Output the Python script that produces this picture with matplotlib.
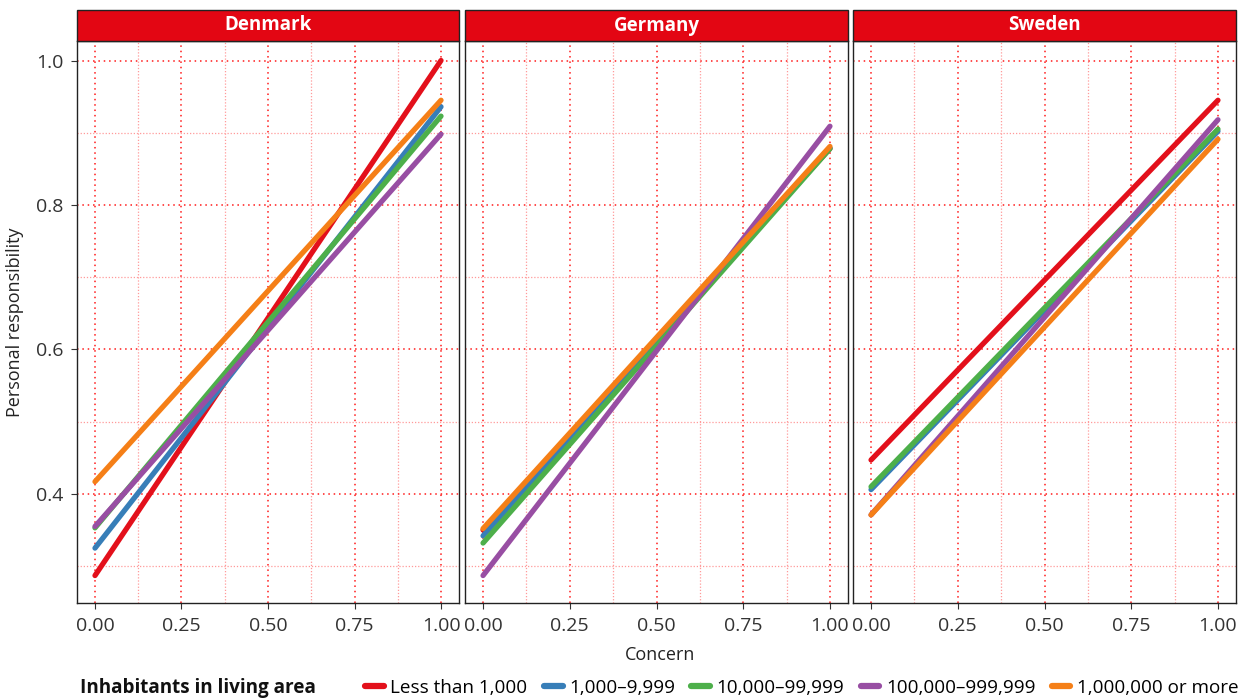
import numpy as np
import matplotlib
matplotlib.use('Agg')
import matplotlib.pyplot as plt
from matplotlib.patches import Rectangle
from matplotlib.lines import Line2D

plt.rcParams['font.family'] = ['Open Sans', 'DejaVu Sans']

# Data
countries = ['Denmark', 'Germany', 'Sweden']
groups = ['Less than 1,000', '1,000\u20139,999', '10,000\u201399,999',
          '100,000\u2013999,999', '1,000,000 or more']
colors = ['#e3101b', '#377eb8', '#4daf4a', '#984ea3', '#f57f17']
concern = [0.0, 1.0]

# predicted personal responsibility at concern = 0 and concern = 1
denmark_start = [0.287, 0.325, 0.353, 0.355, 0.417]
denmark_end = [1.000, 0.936, 0.923, 0.898, 0.945]
germany_start = [0.350, 0.342, 0.332, 0.287, 0.352]
germany_end = [0.878, 0.879, 0.878, 0.909, 0.881]
sweden_start = [0.447, 0.406, 0.410, 0.371, 0.371]
sweden_end = [0.945, 0.902, 0.905, 0.918, 0.891]

starts = [denmark_start, germany_start, sweden_start]
ends = [denmark_end, germany_end, sweden_end]

W, H = 1250, 699
fig = plt.figure(figsize=(W / 100, H / 100), dpi=100)

panel_x = [(77, 459), (465, 848), (853, 1236)]
top_px, bottom_px = 41, 603
strip_px = 31
strip_red = '#e30613'
grid_red = '#ff1a1a'

for i, country in enumerate(countries):
    x0, x1 = panel_x[i]
    ax = fig.add_axes([x0 / W, 1 - bottom_px / H, (x1 - x0) / W, (bottom_px - top_px) / H])
    for g in range(len(groups)):
        ax.plot(concern, [starts[i][g], ends[i][g]], color=colors[g], lw=3.8,
                solid_capstyle='round', zorder=3)
    ax.set_xlim(-0.052, 1.052)
    ax.set_ylim(0.249, 1.027)
    ax.set_xticks([0, 0.25, 0.5, 0.75, 1.0])
    ax.set_xticklabels(['0.00', '0.25', '0.50', '0.75', '1.00'])
    ax.set_xticks(np.arange(0.125, 1.0, 0.25), minor=True)
    ax.set_yticks([0.4, 0.6, 0.8, 1.0])
    ax.set_yticks([0.3, 0.5, 0.7, 0.9], minor=True)
    ax.grid(which='major', color=grid_red, linestyle=(0, (1, 2.5)), lw=1.1, zorder=1)
    ax.grid(which='minor', color='#ff9a9a', linestyle=(0, (1, 1.5)), lw=0.9, zorder=1)
    ax.tick_params(which='major', length=4, color='#333333', labelsize=14,
                   labelcolor='#333333', pad=6)
    ax.tick_params(which='minor', length=0)
    if i > 0:
        ax.tick_params(axis='y', which='both', left=False, labelleft=False)
    for sp in ax.spines.values():
        sp.set_color('#222222')
        sp.set_linewidth(1.0)
    # facet strip
    h = strip_px / (bottom_px - top_px)
    ax.add_patch(Rectangle((0, 1), 1, h, transform=ax.transAxes, clip_on=False,
                           facecolor=strip_red, edgecolor='#222222', lw=1.0, zorder=5))
    ax.text(0.5, 1 + h / 2, country, transform=ax.transAxes, ha='center', va='center',
            color='white', fontsize=13.5, fontweight='bold', zorder=6)
    if i == 0:
        ax.set_ylabel('Personal responsibility', fontsize=13, color='#222222', labelpad=8)

fig.text(660 / W, 1 - 655 / H, 'Concern', ha='center', va='center', fontsize=13, color='#222222')

fig.text(80 / W, 1 - 688 / H, 'Inhabitants in living area', ha='left', va='center',
         fontsize=13.6, fontweight='bold', color='#111111')
handles = [Line2D([0], [0], color=c, lw=4.5, solid_capstyle='round') for c in colors]
fig.legend(handles, groups, loc='center left', bbox_to_anchor=(365 / W, 1 - 688 / H),
           ncol=5, frameon=False, fontsize=13.6, handlelength=1.0, handletextpad=0.35,
           columnspacing=0.85, borderaxespad=0, borderpad=0)

fig.savefig('out.png', dpi=100)
